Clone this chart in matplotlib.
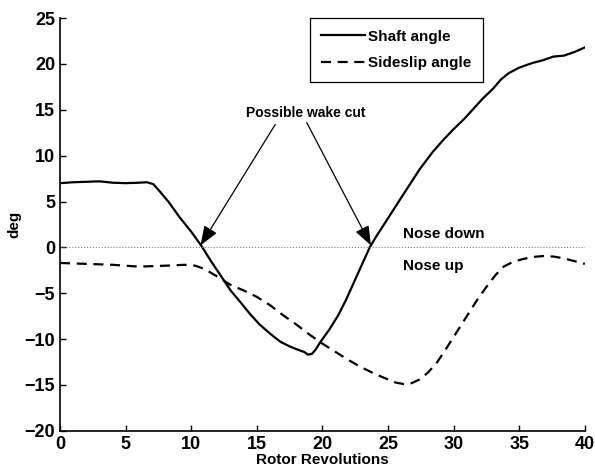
import matplotlib
matplotlib.use("Agg")
import matplotlib.pyplot as plt

# shaft angle (solid)
shaft_x = [0, 1, 2, 3, 4, 5, 6, 6.6, 7.1, 7.6, 8.3, 9.1, 10.0, 10.8, 11.5, 12.3, 13.0,
           13.7, 14.5, 15.2, 16.0, 16.8, 17.5, 18.2, 18.6, 18.9, 19.2, 19.5, 19.8, 20.5,
           21.2, 21.8, 22.4, 23.0, 23.6, 24.1, 24.6, 25.5, 26.4, 27.4, 28.4, 29.2, 30.0,
           30.8, 31.5, 32.2, 33.0, 33.6, 34.2, 35.0, 36.0, 36.8, 37.6, 38.4, 39.2, 40]
shaft_y = [7.0, 7.1, 7.15, 7.2, 7.05, 7.0, 7.05, 7.1, 6.9, 6.1, 4.9, 3.3, 1.7, 0.1, -1.5,
           -3.2, -4.7, -5.9, -7.3, -8.4, -9.4, -10.3, -10.8, -11.2, -11.4, -11.7, -11.6,
           -11.1, -10.4, -9.0, -7.4, -5.7, -3.8, -1.9, 0.0, 1.2, 2.3, 4.3, 6.3, 8.5, 10.4,
           11.7, 12.9, 14.0, 15.1, 16.2, 17.3, 18.3, 19.0, 19.6, 20.1, 20.4, 20.8, 20.9,
           21.3, 21.8]

# sideslip angle (dashed)
slip_x = [0, 2, 4, 6, 8, 9.5, 10.3, 11, 12, 13, 14, 15, 16, 17, 18, 19, 20, 21,
          22, 23, 24, 25, 25.6, 26.2, 26.8, 27.4, 28.0, 28.7, 29.4, 30.2, 31.0,
          31.8, 32.5, 33.2, 33.8, 34.5, 35.2, 36.0, 36.8, 37.6, 38.4, 39.2, 40]
slip_y = [-1.7, -1.8, -1.9, -2.1, -2.0, -1.9, -2.0, -2.35, -3.2, -4.1, -4.7, -5.4, -6.3,
          -7.4, -8.4, -9.5, -10.5, -11.4, -12.3, -13.1, -13.8, -14.4, -14.75, -14.9,
          -14.8, -14.4, -13.7, -12.6, -11.1, -9.3, -7.5, -5.7, -4.3, -3.0, -2.1, -1.6,
          -1.3, -1.05, -0.95, -1.0, -1.2, -1.5, -1.8]

zero_x = [0, 40]
zero_y = [0, 0]

cut_tips = [(10.7, 0.2), (23.7, 0.2)]
cut_starts = [(16.4, 13.4), (18.8, 13.6)]

plt.rcParams["font.family"] = ["Liberation Sans", "DejaVu Sans"]
plt.rcParams["font.weight"] = "bold"

fig = plt.figure(figsize=(5.95, 4.75), dpi=100)
ax = fig.add_axes([0.101, 0.093, 0.882, 0.869])

ax.plot(shaft_x, shaft_y, "-", color="black", lw=1.6, label="Shaft angle")
ax.plot(slip_x, slip_y, "--", color="black", lw=1.6, dashes=(4.5, 3), label="Sideslip angle")
ax.plot(zero_x, zero_y, ":", color="gray", lw=0.8)

for tip, start in zip(cut_tips, cut_starts):
    ax.annotate("", xy=tip, xytext=start,
                arrowprops=dict(arrowstyle="-|>,head_length=1.2,head_width=0.45",
                                color="black", lw=0.9, shrinkA=0, shrinkB=0))
ax.text(18.7, 14.6, "Possible wake cut", ha="center", va="center", fontsize=10, fontweight="bold")
ax.text(26.1, 1.5, "Nose down", ha="left", va="center", fontsize=11)
ax.text(26.1, -2.0, "Nose up", ha="left", va="center", fontsize=11)

ax.set_xlim(0, 40)
ax.set_ylim(-20, 25)
ax.set_xticks(range(0, 41, 5))
ax.set_yticks(range(-20, 26, 5))
ax.tick_params(direction="in", labelsize=13, length=4, width=1)
for lab in ax.get_xticklabels() + ax.get_yticklabels():
    lab.set_fontweight("bold")
ax.spines["top"].set_visible(False)
ax.spines["right"].set_visible(False)
ax.spines["left"].set_linewidth(1.2)
ax.spines["bottom"].set_linewidth(1.2)
ax.set_xlabel("Rotor Revolutions", fontsize=11, fontweight="bold", labelpad=0)
ax.set_ylabel("deg", fontsize=11, fontweight="bold", labelpad=2)

leg = ax.legend(loc="upper right", bbox_to_anchor=(0.806, 1.0), borderaxespad=0,
                fancybox=False, framealpha=1, edgecolor="black", fontsize=11,
                handlelength=2.9, handletextpad=0.2, labelspacing=0.85, borderpad=0.75)
leg.get_frame().set_linewidth(0.9)

fig.savefig("out.png", dpi=100)
